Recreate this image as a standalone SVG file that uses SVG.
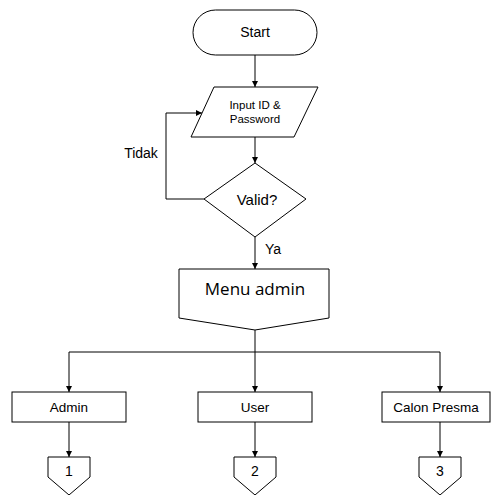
<svg xmlns="http://www.w3.org/2000/svg" width="491" height="495" viewBox="0 0 491 495">
<style>
.s{fill:#fff;stroke:#000;stroke-width:1}
.c{fill:none;stroke:#000;stroke-width:1}
text{font-family:"Liberation Sans",Arial,sans-serif;fill:#000;text-anchor:middle}
.m{font-family:"Open Sans","Noto Sans",sans-serif;font-size:17px}
</style>
<defs>
<marker id="a" markerWidth="6" markerHeight="6" refX="6" refY="3" orient="auto" markerUnits="userSpaceOnUse">
<path d="M0,0 L6,3 L0,6 Z" fill="#000"/>
</marker>
</defs>
<rect width="491" height="495" fill="#fff"/>
<g id="connectors">
<line class="c" x1="255" y1="55" x2="255" y2="87" marker-end="url(#a)"/>
<line class="c" x1="255" y1="137" x2="255" y2="163" marker-end="url(#a)"/>
<polyline class="c" points="204,199 166,199 166,113 202,113" marker-end="url(#a)"/>
<line class="c" x1="255" y1="237" x2="255" y2="269" marker-end="url(#a)"/>
<line class="c" x1="255" y1="330" x2="255" y2="392" marker-end="url(#a)"/>
<line class="c" x1="69" y1="352" x2="440" y2="352"/>
<line class="c" x1="69" y1="352" x2="69" y2="392" marker-end="url(#a)"/>
<line class="c" x1="440" y1="352" x2="440" y2="392" marker-end="url(#a)"/>
<line class="c" x1="69" y1="422" x2="69" y2="457" marker-end="url(#a)"/>
<line class="c" x1="255" y1="422" x2="255" y2="457" marker-end="url(#a)"/>
<line class="c" x1="440" y1="422" x2="440" y2="457" marker-end="url(#a)"/>
<text x="141" y="158" font-size="14">Tidak</text>
<text x="273" y="254" font-size="14">Ya</text>
</g>
<g id="start">
<rect class="s" x="193" y="10" width="124" height="45" rx="22.5"/>
<text x="255" y="37" font-size="14">Start</text>
</g>
<g id="input">
<polygon class="s" points="214,87 318,87 294,137 191,137"/>
<text x="255" y="109" font-size="11.5">Input ID &amp;</text>
<text x="255" y="123" font-size="11.5">Password</text>
</g>
<g id="valid">
<polygon class="s" points="255,163 306,199 255,237 204,199"/>
<text x="257" y="205" font-size="15">Valid?</text>
</g>
<g id="menu">
<polygon class="s" points="179,269 329,269 329,318 255,330 179,318"/>
<text class="m" x="255" y="295">Menu admin</text>
</g>
<g id="admin">
<rect class="s" x="12" y="392" width="114" height="30"/>
<text x="69" y="412" font-size="13.5">Admin</text>
</g>
<g id="user">
<rect class="s" x="198" y="392" width="114" height="30"/>
<text x="255" y="412" font-size="13.5">User</text>
</g>
<g id="calon">
<rect class="s" x="382" y="392" width="108" height="30"/>
<text x="436" y="412" font-size="13.5">Calon Presma</text>
</g>
<g id="c1">
<polygon class="s" points="48,457 90,457 90,477 69,495 48,477"/>
<text x="69" y="476" font-size="14">1</text>
</g>
<g id="c2">
<polygon class="s" points="234,457 276,457 276,477 255,495 234,477"/>
<text x="255" y="476" font-size="14">2</text>
</g>
<g id="c3">
<polygon class="s" points="419,457 461,457 461,477 440,495 419,477"/>
<text x="440" y="476" font-size="14">3</text>
</g>
</svg>
